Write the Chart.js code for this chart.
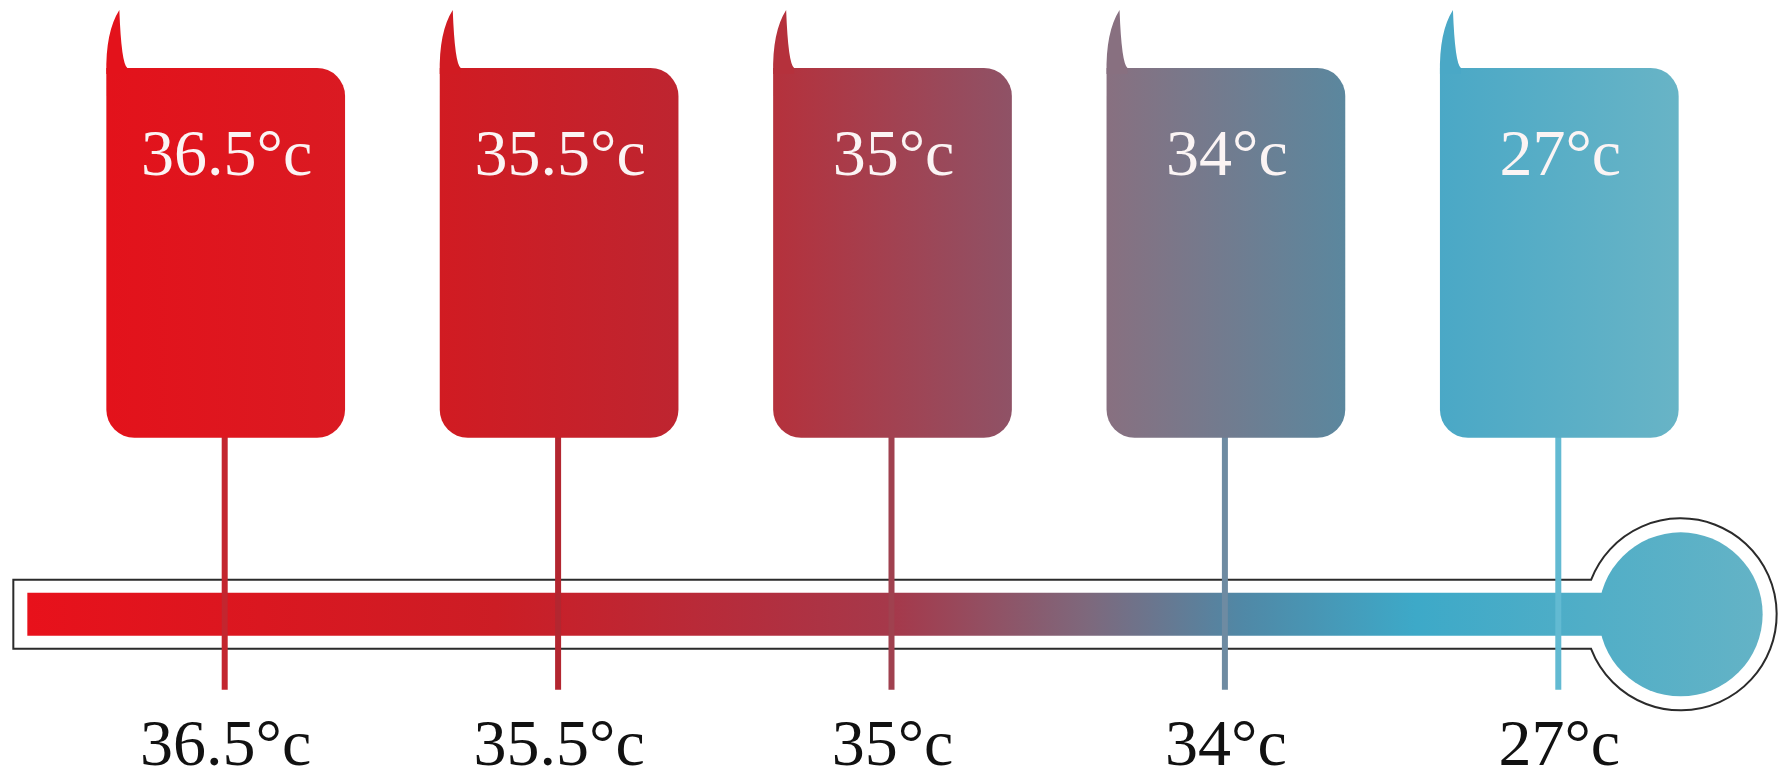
<!DOCTYPE html>
<html>
<head>
<meta charset="utf-8">
<script src="https://cdn.jsdelivr.net/npm/chart.js@4"></script>
<style>
  html, body { margin: 0; padding: 0; background: #fff; }
  #wrap { width: 1784px; height: 776px; }
</style>
</head>
<body>
<div id="wrap"><canvas id="chart"></canvas></div>
<script>
// values
const categories = ["36.5°c", "35.5°c", "35°c", "34°c", "27°c"];
const temperatures = [36.5, 35.5, 35, 34, 27];

// colours per box (left edge -> right edge of gradient) and stems
const boxLeftColors = ["#E3121B", "#D11B22", "#B5313C", "#887080", "#4AA8C6"];
const boxRightColors = ["#DA1A22", "#BE2530", "#8F5266", "#5B879E", "#68B4C6"];
const stemColors = ["#C3262F", "#B32630", "#A0414F", "#6E8BA2", "#62BAD2"];

// layout (y runs 0 at top to 100 at the axis, x in category units)
const BOX_SPAN = [9.55, 61.5];
const STEM_END = 96.9;
const TUBE_AT = 86.3;
const TUBE_START = -0.637;
const FILL_START = -0.595;
const BULB_AT = 4.364;
const BAR_PCT = 0.716;
const LABEL_FONT = "'Liberation Serif', 'Times New Roman', serif";

const thermometer = {
  id: "thermometer",
  beforeDatasetsDraw(chart) {
    const { ctx, scales: { x, y } } = chart;
    const cy = y.getPixelForValue(TUBE_AT);
    const left = x.getPixelForValue(TUBE_START);
    const fillLeft = x.getPixelForValue(FILL_START);
    const bx = x.getPixelForValue(BULB_AT);
    const outerH = 34.5, innerH = 21.5, bulbR = 96, fillR = 82;

    ctx.save();
    // glass outline
    const a = Math.asin(outerH / bulbR);
    ctx.beginPath();
    ctx.moveTo(left, cy - outerH);
    ctx.lineTo(bx - Math.cos(a) * bulbR, cy - outerH);
    ctx.arc(bx, cy, bulbR, -Math.PI + a, Math.PI - a, false);
    ctx.lineTo(left, cy + outerH);
    ctx.closePath();
    ctx.fillStyle = "#fff";
    ctx.fill();
    ctx.lineWidth = 2;
    ctx.strokeStyle = "#2b2b2b";
    ctx.stroke();

    // mercury
    const g = ctx.createLinearGradient(fillLeft, 0, bx + fillR, 0);
    g.addColorStop(0, "#E8111B");
    g.addColorStop(0.27, "#CC1D25");
    g.addColorStop(0.42, "#B32E3E");
    g.addColorStop(0.5, "#A5394B");
    g.addColorStop(0.61, "#7E687C");
    g.addColorStop(0.7, "#5088A6");
    g.addColorStop(0.8, "#3DA9C8");
    g.addColorStop(1, "#64B3C6");
    ctx.fillStyle = g;
    ctx.beginPath();
    ctx.rect(fillLeft, cy - innerH, bx - fillLeft, innerH * 2);
    ctx.fill();
    ctx.beginPath();
    ctx.arc(bx, cy, fillR, 0, Math.PI * 2);
    ctx.fill();

    // stems
    const meta = chart.getDatasetMeta(0);
    const stemEnd = y.getPixelForValue(STEM_END);
    meta.data.forEach((bar, i) => {
      const bottom = Math.max(bar.y, bar.base);
      ctx.beginPath();
      ctx.moveTo(bar.x - 1, bottom - 4);
      ctx.lineTo(bar.x - 1, stemEnd);
      ctx.lineWidth = 6;
      ctx.strokeStyle = stemColors[i];
      ctx.stroke();
    });
    ctx.restore();
  },
  afterDatasetsDraw(chart) {
    const { ctx } = chart;
    const meta = chart.getDatasetMeta(0);
    ctx.save();
    meta.data.forEach((bar, i) => {
      const top = Math.min(bar.y, bar.base);
      const L = bar.x - bar.width / 2;
      // speech bubble tail
      ctx.beginPath();
      ctx.moveTo(L, top + 6);
      ctx.quadraticCurveTo(L - 1, top - 36, L + 13, top - 58);
      ctx.quadraticCurveTo(L + 15, top - 4, L + 21, top);
      ctx.lineTo(L + 21, top + 6);
      ctx.closePath();
      ctx.fillStyle = boxLeftColors[i];
      ctx.fill();
      // value in the box
      ctx.fillStyle = "#fbf4f4";
      ctx.font = "66px " + LABEL_FONT;
      ctx.textAlign = "center";
      ctx.textBaseline = "alphabetic";
      ctx.fillText(temperatures[i] + "°c", bar.x + 1, top + 107);
    });
    ctx.restore();
  }
};

new Chart(document.getElementById("chart"), {
  type: "bar",
  data: {
    labels: categories,
    datasets: [
      {
        data: temperatures.map(() => BOX_SPAN),
        backgroundColor(c) {
          const chart = c.chart;
          const xs = chart.scales.x;
          if (c.dataIndex === undefined || !chart.chartArea || !xs) return "#c33";
          const cx = xs.getPixelForValue(c.dataIndex);
          const half = (xs.width / categories.length) * BAR_PCT / 2;
          const g = chart.ctx.createLinearGradient(cx - half, 0, cx + half, 0);
          g.addColorStop(0, boxLeftColors[c.dataIndex]);
          g.addColorStop(1, boxRightColors[c.dataIndex]);
          return g;
        },
        borderSkipped: false,
        borderRadius: { topLeft: 0, topRight: 28, bottomLeft: 28, bottomRight: 28 },
        barPercentage: BAR_PCT,
        categoryPercentage: 1,
      },
    ],
  },
  options: {
    responsive: true,
    maintainAspectRatio: false,
    animation: false,
    layout: { padding: { left: 59, right: 58, top: 0, bottom: 0 } },
    plugins: { legend: { display: false }, tooltip: { enabled: false } },
    scales: {
      x: {
        grid: { display: false },
        border: { display: false },
        ticks: {
          color: "#111",
          padding: 0,
          maxRotation: 0,
          font: { family: LABEL_FONT, size: 66, lineHeight: 0.85 },
        },
      },
      y: {
        display: false,
        reverse: true,
        min: 0,
        max: 100,
      },
    },
  },
  plugins: [thermometer],
});
</script>
</body>
</html>
